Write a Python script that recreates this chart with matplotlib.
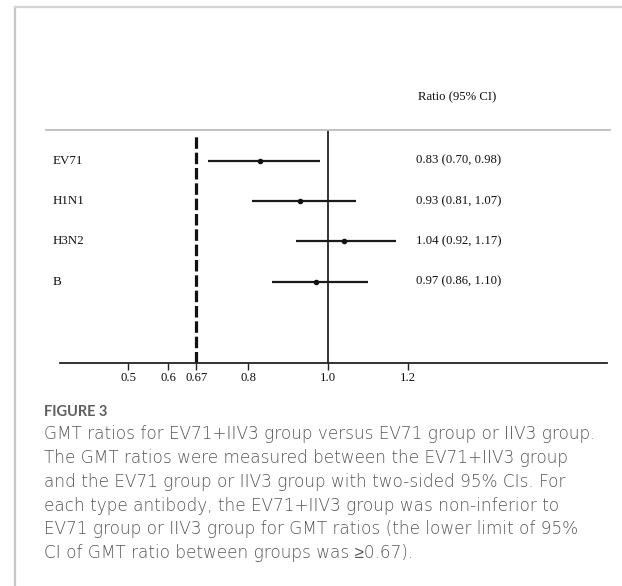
import matplotlib
matplotlib.use("Agg")
import matplotlib.pyplot as plt
from matplotlib.lines import Line2D
import matplotlib.transforms as mtransforms

# ---- data ----
groups = ["EV71", "H1N1", "H3N2", "B"]
ratio = [0.83, 0.93, 1.04, 0.97]
lower = [0.70, 0.81, 0.92, 0.86]
upper = [0.98, 1.07, 1.17, 1.10]
tick_values = [0.5, 0.6, 0.67, 0.8, 1.0, 1.2]
tick_labels = ["0.5", "0.6", "0.67", "0.8", "1.0", "1.2"]
margin = 0.67
ref = 1.0
header = "Ratio (95% CI)"
fig_label = "FIGURE 3"
caption_lines = [
    "GMT ratios for EV71+IIV3 group versus EV71 group or IIV3 group.",
    "The GMT ratios were measured between the EV71+IIV3 group",
    "and the EV71 group or IIV3 group with two-sided 95% CIs. For",
    "each type antibody, the EV71+IIV3 group was non-inferior to",
    "EV71 group or IIV3 group for GMT ratios (the lower limit of 95%",
    "CI of GMT ratio between groups was \u22650.67).",
]

W, H = 622, 586
DPI = 100
fig = plt.figure(figsize=(W / DPI, H / DPI), dpi=DPI)
fig.patch.set_facecolor("white")

def fx(px):
    return px / W

def fy(py):
    return 1 - py / H

serif = "Liberation Serif"
fs_num = 9.2
fs_lab = 9.4

# axes: pixel box
ax_left, ax_right, ax_top, ax_bottom = 60, 607, 130.3, 362.7
ax = fig.add_axes([fx(ax_left), fy(ax_bottom), fx(ax_right) - fx(ax_left),
                   (ax_bottom - ax_top) / H])
x0_px, scale = 328.3, 400.0  # 1.0 at pixel 328.3, 400 px per unit
ax.set_xlim(1 + (ax_left - x0_px) / scale, 1 + (ax_right - x0_px) / scale)
row_px0, row_step = 160.7, 40.33
ax.set_ylim((ax_bottom - row_px0) / row_step, (ax_top - row_px0) / row_step)

for s in ["top", "right", "left"]:
    ax.spines[s].set_visible(False)
ax.spines["bottom"].set_linewidth(1.3)
ax.spines["bottom"].set_color("#222222")
ax.set_yticks([])
ax.set_xticks(tick_values)
ax.set_xticklabels(tick_labels, fontfamily=serif, fontsize=fs_num)
ax.tick_params(axis="x", direction="out", length=5, width=1.0, pad=2,
               color="#222222", labelcolor="#111111")
ax.patch.set_alpha(0)

rows = list(range(len(groups)))

# reference lines
ax.axvline(ref, color="#222222", lw=1.3, zorder=1)
ax.axvline(margin, ymin=0, ymax=0.99, color="#111111", lw=2.3,
           linestyle=(0, (3.6, 1.2)), zorder=1)

# CIs and points
for i in rows:
    ax.plot([lower[i], upper[i]], [i, i], color="#1a1a1a", lw=1.6,
            solid_capstyle="butt", zorder=2)
ax.plot(ratio, rows, "o", color="#111111", markersize=3.0, zorder=3)

# row labels and ratio text (x in figure coords, y in data rows)
blend = mtransforms.blended_transform_factory(fig.transFigure, ax.transData)
for i in rows:
    ax.text(fx(53), i, groups[i], transform=blend,
            ha="left", va="center", fontfamily=serif, fontsize=fs_lab,
            color="#111111")
    ax.text(fx(415.7), i,
            f"{ratio[i]:.2f} ({lower[i]:.2f}, {upper[i]:.2f})",
            transform=blend, ha="left", va="center",
            fontfamily=serif, fontsize=fs_num, color="#111111")

fig.text(fx(418), fy(97), header, ha="left", va="center",
         fontfamily=serif, fontsize=fs_num, color="#111111")

# header separator line (grey)
fig.add_artist(Line2D([fx(46), fx(610)], [fy(130.3), fy(130.3)],
                      color="#bdbdbd", lw=1.3))

# page frame
fig.add_artist(Line2D([fx(14.7), fx(14.7)], [fy(7.3), 0], color="#c8c8c8", lw=1.6))
fig.add_artist(Line2D([fx(14.7), 1], [fy(7.3), fy(7.3)], color="#d4d4d4", lw=1.6))

# caption
cap_font = ["DejaVu Sans", "Noto Sans", "Liberation Sans"]
fig.text(fx(44), fy(411.7), fig_label, ha="left", va="center",
         fontfamily=["Lato", "DejaVu Sans"], fontsize=10.5, fontweight="bold",
         color="#5f5f5f")
for k, line in enumerate(caption_lines):
    fig.text(fx(44), fy(434.3 + k * 23.8), line, ha="left", va="center",
             fontfamily=cap_font, fontsize=12.2, fontweight="light",
             color="#555555")

fig.savefig("out.png", dpi=DPI)
